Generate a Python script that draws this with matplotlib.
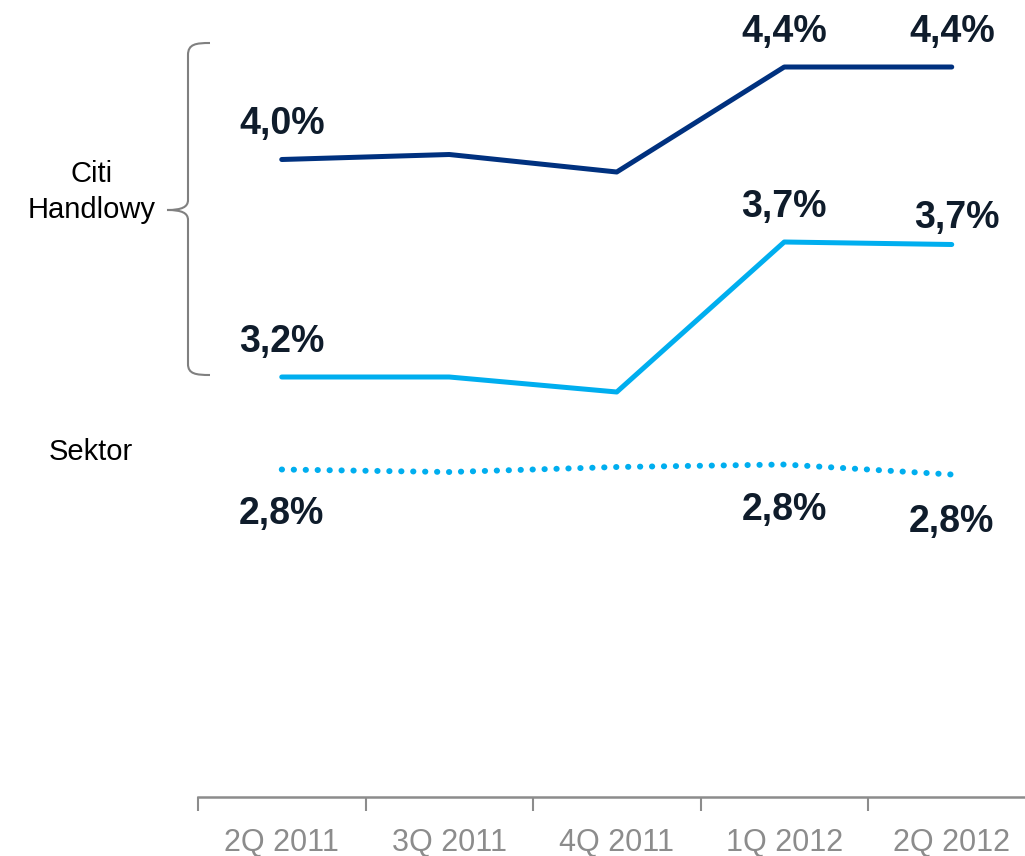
import matplotlib
matplotlib.use("Agg")
import matplotlib.pyplot as plt
from matplotlib.path import Path
from matplotlib.patches import PathPatch

plt.rcParams['font.family'] = ['Liberation Sans', 'DejaVu Sans']

categories = ["2Q 2011", "3Q 2011", "4Q 2011", "1Q 2012", "2Q 2012"]
citi_dark = [4.03, 4.05, 3.98, 4.40, 4.40]
citi_light = [3.16, 3.16, 3.10, 3.70, 3.69]
sektor = [2.79, 2.78, 2.80, 2.81, 2.77]

dark_labels = {0: "4,0%", 3: "4,4%", 4: "4,4%"}
light_labels = {0: "3,2%", 3: "3,7%", 4: "3,7%"}
sektor_labels = {0: "2,8%", 3: "2,8%", 4: "2,8%"}

DARK = "#00317f"
LIGHT = "#00aeef"
TXT = "#0f1c2b"
GREY = "#8c8c8c"

W, H = 1025, 856
fig = plt.figure(figsize=(W / 100, H / 100), dpi=100)
ax = fig.add_axes([198 / W, 1 - 797 / H, 1 - 198 / W, 797 / H])

x = list(range(len(categories)))
ax.plot(x, citi_dark, color=DARK, lw=3.6, solid_capstyle='round', solid_joinstyle='round')
ax.plot(x, citi_light, color=LIGHT, lw=3.6, solid_capstyle='round', solid_joinstyle='round')
ax.plot(x, sektor, color=LIGHT, lw=4.3, linestyle=(0, (0.05, 1.95)), dash_capstyle='round')

ax.set_xlim(-0.5, -0.5 + 827 / 167.5)
ax.set_ylim(1.48, 4.668)

def lab(vals, i, t, dx, dy):
    ax.annotate(t, (i, vals[i]), xytext=(dx, dy), textcoords='offset pixels',
                ha='center', va='center', fontsize=27, fontweight='bold', color=TXT)

for i, t in dark_labels.items():
    lab(citi_dark, i, t, 0, 35)
for i, t in light_labels.items():
    lab(citi_light, i, t, 5 if i == 4 else 0, 27 if i == 4 else 35)
for i, t in sektor_labels.items():
    lab(sektor, i, t, 0, {0: -45, 3: -46, 4: -48}[i])

for s in ['top', 'right', 'left']:
    ax.spines[s].set_visible(False)
ax.spines['bottom'].set_color(GREY)
ax.spines['bottom'].set_linewidth(1.8)
ax.set_yticks([])
ax.set_xticks([i - 0.5 for i in range(len(categories))])
ax.set_xticklabels([])
ax.set_xticks(x, minor=True)
ax.set_xticklabels(categories, minor=True)
ax.tick_params(axis='x', which='major', length=10, width=1.5, color=GREY, direction='out')
ax.tick_params(axis='x', which='minor', length=0, pad=22, labelsize=22, labelcolor=GREY)

# left labels
fig.text(92 / W, 1 - 192 / H, "Citi\nHandlowy", ha='center', va='center', fontsize=21,
         color='black', linespacing=1.35)
fig.text(91 / W, 1 - 452 / H, "Sektor", ha='center', va='center', fontsize=21, color='black')

# curly brace (figure pixel coords)
def P(px, py):
    return (px / W, 1 - py / H)

verts = [P(210, 43), P(196, 43), P(188, 44), P(188, 55),
         P(188, 200),
         P(188, 207), P(182, 210), P(167, 210),
         P(182, 210), P(188, 213), P(188, 220),
         P(188, 364),
         P(188, 374), P(196, 375), P(210, 375)]
codes = [Path.MOVETO, Path.CURVE4, Path.CURVE4, Path.CURVE4,
         Path.LINETO,
         Path.CURVE4, Path.CURVE4, Path.CURVE4,
         Path.CURVE4, Path.CURVE4, Path.CURVE4,
         Path.LINETO,
         Path.CURVE4, Path.CURVE4, Path.CURVE4]
brace = PathPatch(Path(verts, codes), transform=fig.transFigure, fill=False,
                  edgecolor='#808080', lw=1.5)
fig.add_artist(brace)

fig.savefig("out.png", dpi=100, facecolor='white')
